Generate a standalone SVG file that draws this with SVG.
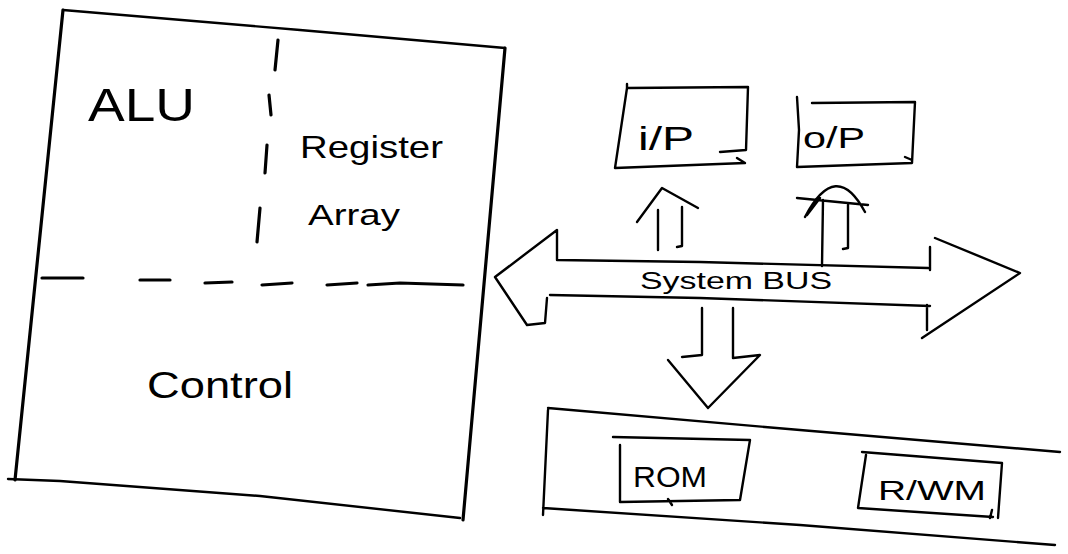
<svg xmlns="http://www.w3.org/2000/svg" width="1068" height="554" viewBox="0 0 1068 554">
<style>
.s{fill:none;stroke:#000;stroke-width:2.4;stroke-linecap:round;stroke-linejoin:round}
.t{fill:none;stroke:#000;stroke-width:3.2;stroke-linecap:round}
.h{font-family:"Liberation Sans",Arial,sans-serif;fill:#000}
</style>
<rect width="1068" height="554" fill="#fff"/>
<g id="cpu">
<path class="s" d="M63,10 L300,30 L505,48"/>
<path class="t" d="M63,10 L15,480"/>
<path class="t" d="M505,48 L463,520"/>
<path class="s" d="M8,479 L60,481 L260,496 L460,518"/>
<path class="t" d="M42,278 L83,278 M140,280 L170,280 M205,283 L232,282 M262,285 L292,283 M327,285 L357,283 M368,285 L400,283 L463,285"/>
<path class="t" d="M278,40 L275,70 M269,95 L271,115 M267,145 L265,173 M260,208 L257,242"/>
<text class="h" x="88" y="121" font-size="46" textLength="107" lengthAdjust="spacingAndGlyphs">ALU</text>
<text class="h" x="300" y="158" font-size="32" textLength="143" lengthAdjust="spacingAndGlyphs">Register</text>
<text class="h" x="308" y="225" font-size="30" textLength="92" lengthAdjust="spacingAndGlyphs">Array</text>
<text class="h" x="147" y="398" font-size="36" textLength="146" lengthAdjust="spacingAndGlyphs">Control</text>
</g>
<g id="ip">
<path class="s" d="M627,84 L627,88 L748,87 L746,150 L720,152 M615,168 L745,163 L737,158 M627,88 L615,168"/>
<text class="h" x="638" y="150" font-size="34" textLength="56" lengthAdjust="spacingAndGlyphs">i/P</text>
</g>
<g id="op">
<path class="s" d="M797,97 L799,130 L797,167 L912,163 L915,102 L812,103 M912,160 L905,157"/>
<text class="h" x="803" y="148" font-size="30" textLength="62" lengthAdjust="spacingAndGlyphs">o/P</text>
</g>
<g id="memory">
<path class="s" d="M548,408 L800,430 L1060,452 M548,410 L543,515 M543,508 L800,525 L1055,545"/>
</g>
<g id="rom">
<path class="s" d="M613,437 L750,440 L740,500 L620,502 L620,445 M668,499 L672,505"/>
<text class="h" x="633" y="487" font-size="30" textLength="74" lengthAdjust="spacingAndGlyphs">ROM</text>
</g>
<g id="rwm">
<path class="s" d="M862,452 L1002,463 L998,518 M866,455 L858,508 L993,517 M992,510 L990,518"/>
<text class="h" x="878" y="500" font-size="28" textLength="108" lengthAdjust="spacingAndGlyphs">R/WM</text>
</g>
<g id="connectors">
<path class="s" d="M495,277 L557,230 L557,260 L700,262 L928,268 M930,247 L930,270 M935,238 L1020,273 L922,338 M550,295 L700,298 L930,306 M927,305 L927,330 M547,298 L545,323 L527,325 L495,277"/>
<text class="h" x="640" y="289" font-size="24" textLength="192" lengthAdjust="spacingAndGlyphs">System BUS</text>
<path class="s" d="M658,250 L658,210 M637,222 L662,188 L698,208 M682,207 L682,246 L677,247"/>
<path class="s" d="M805,217 Q836,158 865,212 M797,198 L868,205 M807,215 L820,198 M823,200 L822,266 M848,205 L848,248 L843,249"/>
<path class="s" d="M702,308 L702,355 L682,357 M668,360 L708,408 L760,355 L733,358 L733,308"/>
</g>
</svg>
